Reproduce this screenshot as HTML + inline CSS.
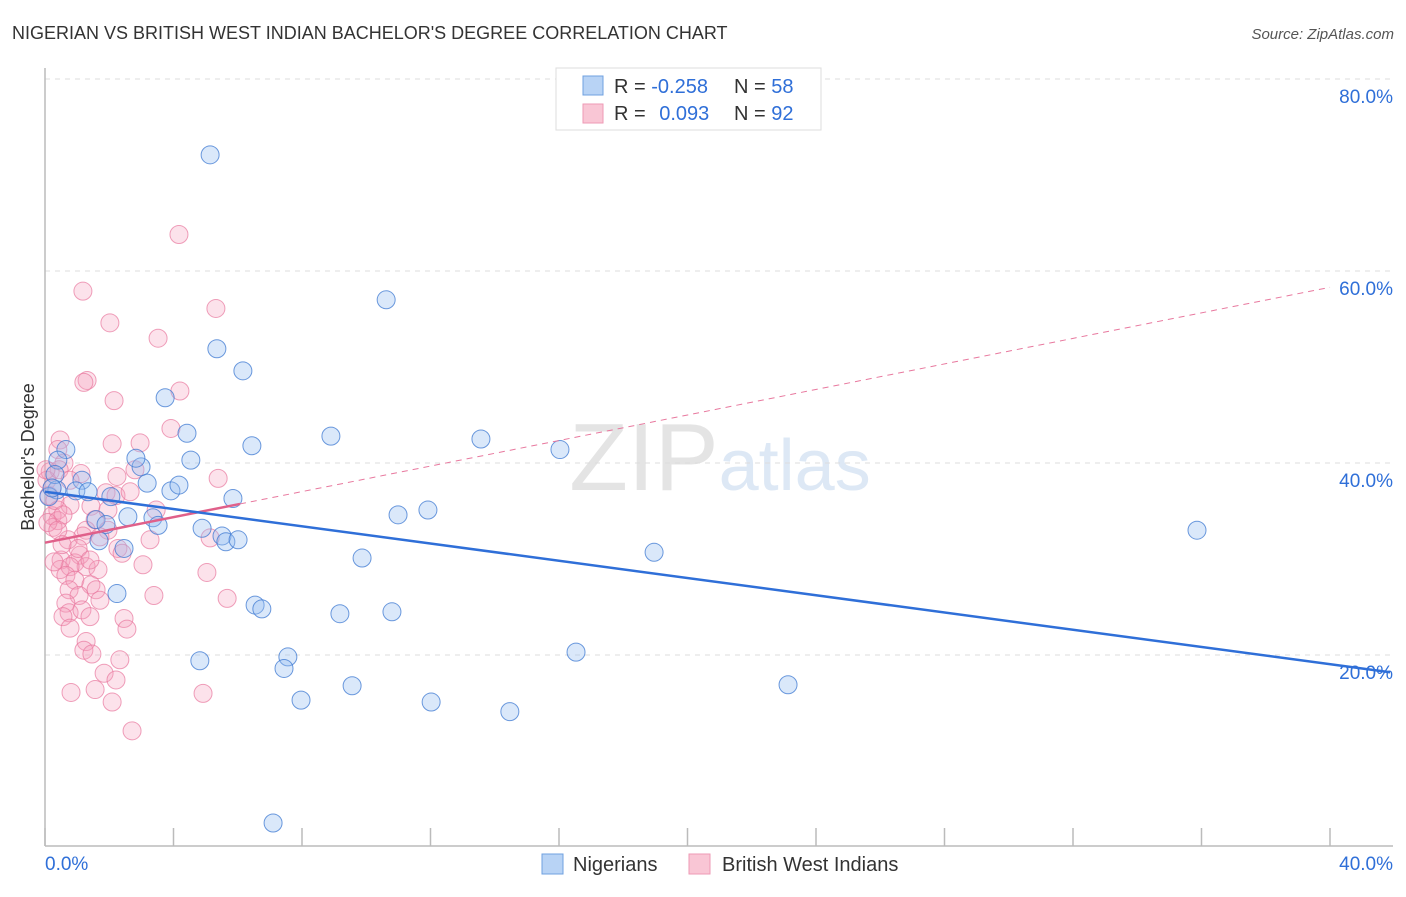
<!DOCTYPE html>
<html><head><meta charset="utf-8"><style>
body{margin:0;background:#fff;font-family:"Liberation Sans",sans-serif;}
svg text{font-family:"Liberation Sans",sans-serif;}
</style></head><body>
<svg id="chart" width="1406" height="892" viewBox="0 0 1406 892">
<text x="12" y="39" font-size="18" fill="#333">NIGERIAN VS BRITISH WEST INDIAN BACHELOR'S DEGREE CORRELATION CHART</text>
<text x="1394" y="39" font-size="15" fill="#555" text-anchor="end" font-style="italic">Source: ZipAtlas.com</text>
<text x="720" y="490" font-size="96" fill="#e8e8e8" text-anchor="middle" font-family="Liberation Serif"><tspan fill="#e4e4e4">ZIP</tspan><tspan fill="#dde8f5" font-family="Liberation Sans" font-size="72">atlas</tspan></text>
<g id="grid"></g>
<g id="axes"></g>
<g id="marks"></g>
<text transform="translate(34,457) rotate(-90)" font-size="18" fill="#333" text-anchor="middle">Bachelor's Degree</text>
<g>
<rect x="556" y="68" width="265" height="62" fill="#fff" stroke="#ddd"/>
<rect x="583" y="76" width="20" height="19" fill="#b8d3f5" stroke="#6fa0e0"/>
<rect x="583" y="104" width="20" height="19" fill="#f9c6d5" stroke="#ee9ab5"/>
<text x="614" y="93" font-size="20" fill="#333">R = <tspan fill="#2f6fd8">-0.258</tspan></text>
<text x="734" y="93" font-size="20" fill="#333">N = <tspan fill="#2f6fd8">58</tspan></text>
<text x="614" y="120" font-size="20" fill="#333">R = <tspan fill="#2f6fd8" dx="8">0.093</tspan></text>
<text x="734" y="120" font-size="20" fill="#333">N = <tspan fill="#2f6fd8">92</tspan></text>
</g>
<g>
<rect x="542" y="854" width="21" height="20" fill="#b8d3f5" stroke="#6fa0e0"/>
<text x="573" y="871" font-size="20" fill="#333">Nigerians</text>
<rect x="689" y="854" width="21" height="20" fill="#f9c6d5" stroke="#ee9ab5"/>
<text x="722" y="871" font-size="20" fill="#333">British West Indians</text>
</g>
</svg>
<script>
const xTicks=[0,4,8,12,16,20,24,28,32,36,40];
const yTicks=[20,40,60,80];
const yTickLabels=["20.0%","40.0%","60.0%","80.0%"];
const xTickLabels=["0.0%","40.0%"];
const nigX=[5.14,10.62,5.35,6.16,3.74,4.42,6.44,8.90,13.57,16.03,0.65,0.40,2.99,4.54,2.83,1.15,2.05,3.18,3.92,4.17,5.85,0.96,1.34,0.37,0.12,1.59,1.90,2.58,3.36,3.52,4.89,5.51,5.63,6.01,1.68,2.46,10.99,11.92,35.86,18.96,9.87,2.24,6.54,6.75,9.18,10.80,16.53,7.56,7.44,4.82,9.56,7.97,12.02,14.47,23.13,7.10,0.31,0.22];
const nigY=[72.1,57.0,51.9,49.6,46.8,43.1,41.8,42.8,42.5,41.4,41.4,40.3,39.6,40.3,40.5,38.2,36.5,37.9,37.1,37.7,36.3,37.1,37.0,37.2,36.5,34.1,33.6,34.4,34.3,33.5,33.2,32.4,31.8,32.0,31.9,31.1,34.6,35.1,33.0,30.7,30.1,26.4,25.2,24.8,24.3,24.5,20.3,19.8,18.6,19.4,16.8,15.3,15.1,14.1,16.9,2.5,38.8,37.4];
const bwiX=[4.17,1.18,5.32,2.02,3.52,1.31,1.21,4.20,2.15,3.92,0.47,2.09,2.96,0.40,0.59,5.39,2.24,1.12,0.16,0.06,0.22,0.12,1.90,2.21,1.43,0.78,0.40,0.22,0.40,0.25,1.56,1.28,1.96,1.18,0.72,1.71,2.27,2.40,5.14,1.09,0.50,3.05,0.93,1.28,1.65,0.47,0.78,0.65,0.93,1.43,5.04,1.59,0.75,1.06,1.71,3.39,0.65,5.67,0.75,1.15,1.40,0.56,2.46,2.55,0.78,1.28,1.21,1.46,2.33,1.84,2.21,0.81,1.56,4.92,2.09,2.71,0.44,0.78,0.31,0.56,0.09,0.40,2.80,2.65,1.96,3.27,1.03,0.53,1.40,0.28,3.46,0.03];
const bwiY=[63.8,57.9,56.1,54.6,53.0,48.6,48.4,47.5,46.5,43.6,42.4,42.0,42.1,41.4,40.0,38.4,38.6,38.9,39.1,38.2,37.4,36.6,36.9,36.6,35.5,35.6,35.1,34.5,34.0,33.3,34.1,33.0,33.0,32.4,32.0,32.3,31.1,30.6,32.2,30.4,29.9,29.4,29.6,29.2,28.9,28.9,29.2,28.3,27.8,27.3,28.6,26.8,26.8,26.2,25.7,26.2,25.4,25.9,24.4,24.7,24.0,24.0,23.8,22.7,22.8,21.4,20.5,20.1,19.5,18.1,17.4,16.1,16.4,16.0,15.1,12.1,39.3,38.2,36.1,34.6,33.8,33.0,39.3,37.0,35.1,32.0,31.1,31.5,29.9,29.7,35.1,39.3];
const nigTrend=[37.0,-0.449];
const bwiTrend=[31.7,0.665];
const NS="http://www.w3.org/2000/svg";
function sx(v){return 45+v*32.125;}
function sy(v){return 847-v*9.6;}
function mk(tag,attrs,parent){const e=document.createElementNS(NS,tag);for(const k in attrs)e.setAttribute(k,attrs[k]);document.getElementById(parent).appendChild(e);return e;}
yTicks.forEach((t,i)=>{
 const l=mk('line',{x1:45,x2:1393,y1:sy(t),y2:sy(t),stroke:'#ddd','stroke-dasharray':'5,5'},'grid');
 
 
 const tx=mk('text',{x:1393,y:sy(t)+24,'font-size':19,fill:'#2f6fd8','text-anchor':'end'},'axes');
 tx.textContent=yTickLabels[i];
 
 
});
const ya=mk('line',{x1:45,x2:45,y1:68,y2:846,stroke:'#bbb','stroke-width':1.5},'axes');


const xa=mk('line',{x1:45,x2:1393,y1:846,y2:846,stroke:'#bbb','stroke-width':1.5},'axes');


xTicks.forEach(t=>{
 const l=mk('line',{x1:sx(t),x2:sx(t),y1:828,y2:846,stroke:'#bbb','stroke-width':1.5},'axes');
 
 
});
const xl0=mk('text',{x:45,y:870,'font-size':19,fill:'#2f6fd8'},'axes');xl0.textContent=xTickLabels[0];


const xl1=mk('text',{x:1393,y:870,'font-size':19,fill:'#2f6fd8','text-anchor':'end'},'axes');xl1.textContent=xTickLabels[1];


bwiX.forEach((x,i)=>{
 const c=mk('circle',{cx:sx(x),cy:sy(bwiY[i]),r:9,fill:'rgba(244,160,188,0.3)',stroke:'rgba(232,120,158,0.7)','stroke-width':1},'marks');
 
 
});
nigX.forEach((x,i)=>{
 const c=mk('circle',{cx:sx(x),cy:sy(nigY[i]),r:9,fill:'rgba(150,190,240,0.35)',stroke:'rgba(60,120,210,0.75)','stroke-width':1},'marks');
 
 
});
const bx1=6.07,bx2=40;
const pd=mk('line',{x1:sx(bx1),y1:sy(bwiTrend[0]+bwiTrend[1]*bx1),x2:sx(bx2),y2:sy(bwiTrend[0]+bwiTrend[1]*bx2),stroke:'#e8789e','stroke-width':1,'stroke-dasharray':'6,5'},'marks');


const ps=mk('line',{x1:sx(0),y1:sy(bwiTrend[0]),x2:sx(bx1),y2:sy(bwiTrend[0]+bwiTrend[1]*bx1),stroke:'#e0608a','stroke-width':2.5},'marks');


const nx2=41.87;
const nl=mk('line',{x1:sx(0),y1:sy(nigTrend[0]),x2:sx(nx2),y2:sy(nigTrend[0]+nigTrend[1]*nx2),stroke:'#2f6fd8','stroke-width':2.5},'marks');


</script>
</body></html>
